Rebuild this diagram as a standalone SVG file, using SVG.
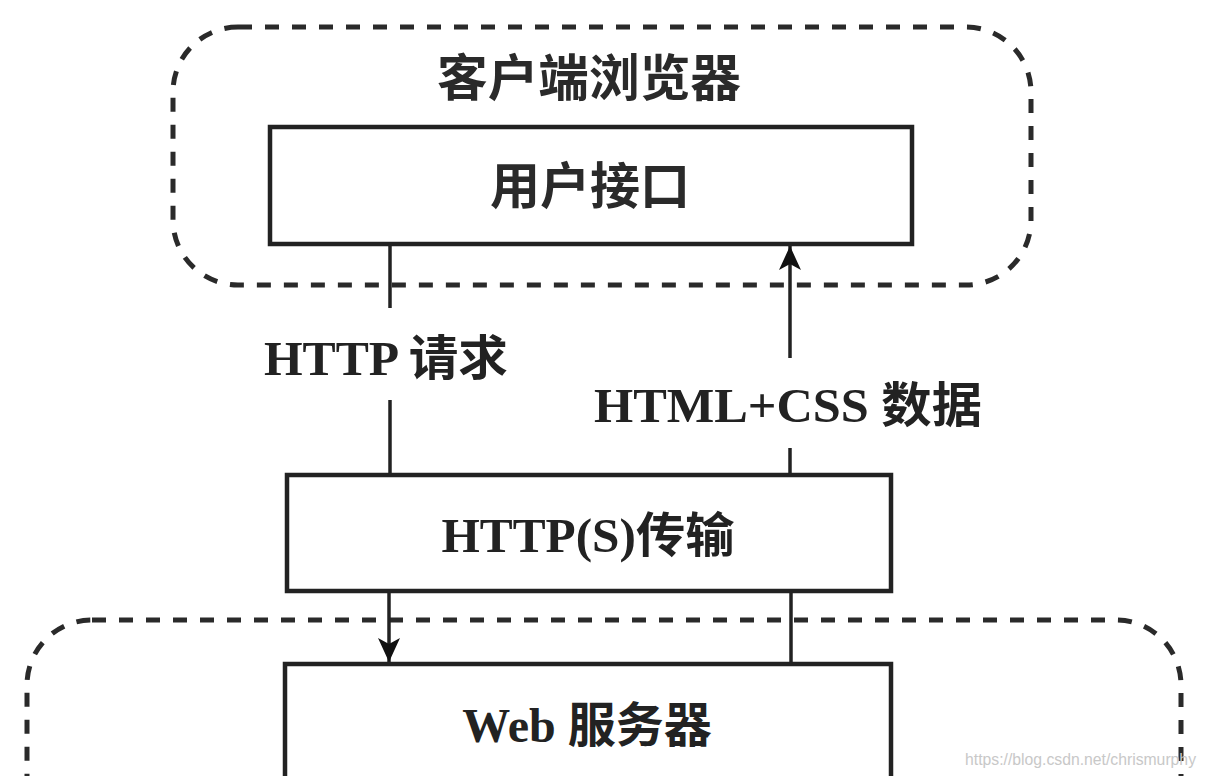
<svg xmlns="http://www.w3.org/2000/svg" width="1206" height="776" viewBox="0 0 1206 776">
  <style>
    .region { fill: none; stroke: #2a2a2a; stroke-width: 5; stroke-dasharray: 14 13; }
    .box { fill: #ffffff; stroke: #222; stroke-width: 4.5; }
    .lbl { font-family: "Liberation Serif", "Noto Sans CJK SC", serif; font-weight: bold; font-size: 48px; fill: #222; text-anchor: middle; }
    .cjk { font-family: "Noto Sans CJK SC", sans-serif; font-weight: bold; font-size: 50px; fill: #2a2a2a; text-anchor: middle; }
    .conn { fill: none; stroke: #222; stroke-width: 3.5; }
    .wm { font-family: "Liberation Sans", sans-serif; font-size: 16px; fill: #c8c8c8; }
  </style>
  <defs>
    <marker id="arrow" viewBox="0 -11 24 22" refX="24" refY="0" markerWidth="24" markerHeight="22" markerUnits="userSpaceOnUse" orient="auto">
      <path d="M0,-11 L24,0 L0,11 L6,0 Z" fill="#111"/>
    </marker>
  </defs>
  <rect width="1206" height="776" fill="#ffffff"/>

  <g id="client-browser">
    <rect class="region" x="173" y="27" width="858" height="258" rx="65" ry="65"/>
    <text class="cjk" x="589" y="96" textLength="304" lengthAdjust="spacingAndGlyphs">客户端浏览器</text>
  </g>

  <g id="server-region">
    <rect class="region" x="27" y="620" width="1154" height="260" rx="65" ry="65"/>
  </g>

  <g id="user-interface">
    <rect class="box" x="270" y="127" width="642" height="117"/>
    <text class="cjk" x="590" y="204" textLength="200" lengthAdjust="spacingAndGlyphs">用户接口</text>
  </g>

  <g id="http-transport">
    <rect class="box" x="287" y="475" width="604" height="116"/>
    <text class="lbl" x="588" y="552" textLength="293" lengthAdjust="spacingAndGlyphs">HTTP(S)传输</text>
  </g>

  <g id="web-server">
    <rect class="box" x="285" y="664" width="606" height="140"/>
    <text class="lbl" x="587" y="742">Web 服务器</text>
  </g>

  <g id="connectors">
    <path class="conn" d="M390,245 L390,308"/>
    <path class="conn" d="M390,400 L390,475"/>
    <path class="conn" d="M389,592 L389,662" marker-end="url(#arrow)"/>
    <path class="conn" d="M790,358 L790,246" marker-end="url(#arrow)"/>
    <path class="conn" d="M790,448 L790,475"/>
    <path class="conn" d="M791,592 L791,664"/>
    <text class="lbl" x="386" y="375" textLength="244" lengthAdjust="spacingAndGlyphs">HTTP 请求</text>
    <text class="lbl" x="788" y="422" textLength="388" lengthAdjust="spacingAndGlyphs">HTML+CSS 数据</text>
  </g>

  <text class="wm" x="965" y="765" textLength="231" lengthAdjust="spacingAndGlyphs">https://blog.csdn.net/chrismurphy</text>
</svg>
